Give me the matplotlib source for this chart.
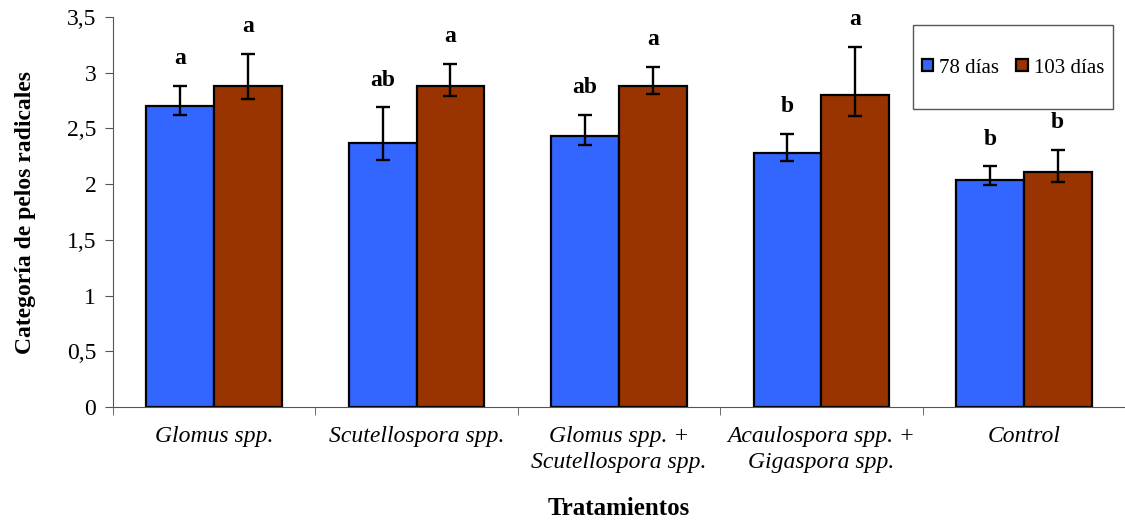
import numpy as np
import matplotlib.pyplot as plt
from matplotlib.patches import Rectangle

plt.rcParams['font.family'] = ['Liberation Serif', 'DejaVu Serif']

# data
tratamientos = ['Glomus spp.', 'Scutellospora spp.', 'Glomus spp. +\nScutellospora spp.',
                'Acaulospora spp. +\nGigaspora spp.', 'Control']
d78 = [2.70, 2.37, 2.43, 2.28, 2.04]
d78_hi = [2.88, 2.69, 2.62, 2.45, 2.16]
d78_lo = [2.62, 2.22, 2.35, 2.21, 1.99]
d103 = [2.88, 2.88, 2.88, 2.80, 2.11]
d103_hi = [3.17, 3.08, 3.05, 3.23, 2.31]
d103_lo = [2.76, 2.79, 2.81, 2.61, 2.02]
letras78 = ['a', 'ab', 'ab', 'b', 'b']
letras103 = ['a', 'a', 'a', 'a', 'b']

x = np.arange(len(tratamientos))
w = 0.335

fig = plt.figure(figsize=(11.25, 5.22), dpi=100)
ax = fig.add_axes([0.1004, 0.2203, 0.8996, 0.7471])

err78 = [np.array(d78) - np.array(d78_lo), np.array(d78_hi) - np.array(d78)]
err103 = [np.array(d103) - np.array(d103_lo), np.array(d103_hi) - np.array(d103)]

ax.bar(x - w / 2, d78, w, color='#3366FF', edgecolor='black', linewidth=1.6, label='78 días',
       yerr=err78, error_kw=dict(ecolor='black', elinewidth=1.7, capsize=5, capthick=1.7))
ax.bar(x + w / 2, d103, w, color='#993300', edgecolor='black', linewidth=1.6, label='103 días',
       yerr=err103, error_kw=dict(ecolor='black', elinewidth=1.7, capsize=5, capthick=1.7))

# significance letters above the error bars
for i in range(len(x)):
    ax.text(x[i] - w / 2, d78_hi[i] + 0.15, letras78[i], ha='center', va='bottom',
            fontsize=17, fontweight='bold')
    ax.text(x[i] + w / 2, d103_hi[i] + 0.15, letras103[i], ha='center', va='bottom',
            fontsize=17, fontweight='bold')

ax.set_xlim(-0.5, 4.46)
ax.set_ylim(0, 3.5)
ax.set_yticks(np.arange(0, 3.51, 0.5))
ax.set_yticklabels([('%g' % v).replace('.', ',') for v in np.arange(0, 3.51, 0.5)], fontsize=17)
ax.set_xticks(x)
ax.set_xticklabels(tratamientos, fontsize=17, style='italic', linespacing=1.3)
ax.set_xticks(np.arange(-0.5, 5, 1), minor=True)
ax.tick_params(axis='x', which='major', length=0, pad=14)
ax.tick_params(axis='x', which='minor', length=6, color='#555555')
ax.tick_params(axis='y', length=6, color='#555555', pad=6)

for s in ['top', 'right']:
    ax.spines[s].set_visible(False)
ax.spines['left'].set_color('#555555')
ax.spines['bottom'].set_color('#555555')

ax.set_ylabel('Categoría de pelos radicales', fontsize=17, fontweight='bold', labelpad=22)
ax.set_xlabel('Tratamientos', fontsize=18, fontweight='bold', labelpad=17)

# legend: entries centred in a wide, tall box
box = Rectangle((0.8116, 0.7912), 0.1777, 0.1609, transform=fig.transFigure,
                facecolor='white', edgecolor='#555555', linewidth=1.0, zorder=4, clip_on=False)
ax.add_artist(box)
leg = ax.legend(loc='center', bbox_to_anchor=(0.9004, 0.8697), bbox_transform=fig.transFigure,
                ncol=2, fontsize=15, frameon=False, handlelength=0.55, handleheight=0.55,
                handletextpad=0.3, columnspacing=0.8, borderpad=0)
leg.set_zorder(5)

fig.savefig('out.png', dpi=100)
